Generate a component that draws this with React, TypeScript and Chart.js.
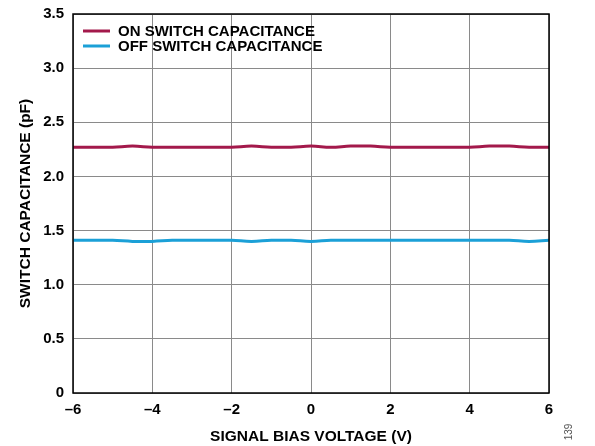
import React, { useEffect, useRef } from "react";
import { Chart, registerables } from "chart.js";

Chart.register(...registerables);

const biasVoltage = [-6, -5.5, -5, -4.5, -4, -3.5, -3, -2.5, -2, -1.5, -1, -0.5, 0, 0.5, 1, 1.5, 2, 2.5, 3, 3.5, 4, 4.5, 5, 5.5, 6];
const onCap = [2.27, 2.27, 2.27, 2.28, 2.27, 2.27, 2.27, 2.27, 2.27, 2.28, 2.27, 2.27, 2.28, 2.27, 2.28, 2.28, 2.27, 2.27, 2.27, 2.27, 2.27, 2.28, 2.28, 2.27, 2.27];
const offCap = [1.41, 1.41, 1.41, 1.40, 1.40, 1.41, 1.41, 1.41, 1.41, 1.40, 1.41, 1.41, 1.40, 1.41, 1.41, 1.41, 1.41, 1.41, 1.41, 1.41, 1.41, 1.41, 1.41, 1.40, 1.41];
const seriesNames = ["ON SWITCH CAPACITANCE", "OFF SWITCH CAPACITANCE"];
const seriesColors = ["#A3194B", "#1BA0D7"];
const xTitle = "SIGNAL BIAS VOLTAGE (V)";
const yTitle = "SWITCH CAPACITANCE (pF)";
const figureId = "139";

const FONT = "'Liberation Sans', Arial, sans-serif";

export default function App() {
  const ref = useRef<HTMLCanvasElement | null>(null);
  useEffect(() => {
    document.body.style.margin = "0";
    const ctx = ref.current!.getContext("2d")!;
    const overlay = {
      id: "overlay",
      afterDraw(chart: any) {
        const c = chart.ctx;
        const a = chart.chartArea;
        c.save();
        c.strokeStyle = "#000";
        c.lineWidth = 1.5;
        c.strokeRect(a.left, a.top, a.right - a.left, a.bottom - a.top);
        // legend
        c.font = `bold 15px ${FONT}`;
        c.textBaseline = "middle";
        c.textAlign = "left";
        seriesNames.forEach((n, i) => {
          const y = a.top + 17 + i * 15;
          c.strokeStyle = seriesColors[i];
          c.lineWidth = 3;
          c.beginPath();
          c.moveTo(a.left + 10, y);
          c.lineTo(a.left + 37, y);
          c.stroke();
          c.fillStyle = "#000";
          c.fillText(n, a.left + 45, y + 1);
        });
        // figure id
        c.translate(569, 432);
        c.rotate(-Math.PI / 2);
        c.font = `10px ${FONT}`;
        c.fillStyle = "#555";
        c.textAlign = "center";
        c.fillText(figureId, 0, 0);
        c.restore();
      },
    };
    const chart = new Chart(ctx, {
      type: "line",
      data: {
        datasets: [
          {
            label: seriesNames[0],
            data: biasVoltage.map((x, i) => ({ x, y: onCap[i] })),
            borderColor: seriesColors[0],
            borderWidth: 3,
            pointRadius: 0,
            tension: 0.4,
          },
          {
            label: seriesNames[1],
            data: biasVoltage.map((x, i) => ({ x, y: offCap[i] })),
            borderColor: seriesColors[1],
            borderWidth: 3,
            pointRadius: 0,
            tension: 0.4,
          },
        ],
      },
      options: {
        animation: false,
        responsive: false,
        layout: { padding: { top: 14, right: 46, left: 0, bottom: 0 } },
        plugins: { legend: { display: false }, tooltip: { enabled: false } },
        scales: {
          x: {
            type: "linear",
            min: -6,
            max: 6,
            border: { display: false },
            grid: { color: "#8a8a8a", lineWidth: 1, drawTicks: false },
            ticks: {
              stepSize: 2,
              color: "#000",
              padding: 8,
              font: { family: FONT, size: 15, weight: "bold" },
              callback: (v: any) => String(v).replace("-", "\u2013"),
            },
            title: {
              display: true,
              text: xTitle,
              color: "#000",
              font: { family: FONT, size: 15.5, weight: "bold" },
              padding: { top: 10, bottom: 0 },
            },
            afterFit: (s: any) => {
              s.height = 53;
              s.paddingLeft = 0;
              s.paddingRight = 0;
            },
          },
          y: {
            type: "linear",
            min: 0,
            max: 3.5,
            border: { display: false },
            grid: { color: "#8a8a8a", lineWidth: 1, drawTicks: false },
            ticks: {
              stepSize: 0.5,
              color: "#000",
              padding: 9,
              font: { family: FONT, size: 15, weight: "bold" },
              callback: (v: any) => (v === 0 ? "0" : Number(v).toFixed(1)),
            },
            title: {
              display: true,
              text: yTitle,
              color: "#000",
              font: { family: FONT, size: 15.5, weight: "bold" },
              padding: { top: 16, bottom: 0 },
            },
            afterFit: (s: any) => {
              s.width = 73;
              s.paddingTop = 0;
              s.paddingBottom = 0;
            },
          },
        },
      },
      plugins: [overlay],
    } as any);
    return () => chart.destroy();
  }, []);
  return <canvas ref={ref} width={595} height={446} style={{ display: "block" }} />;
}
